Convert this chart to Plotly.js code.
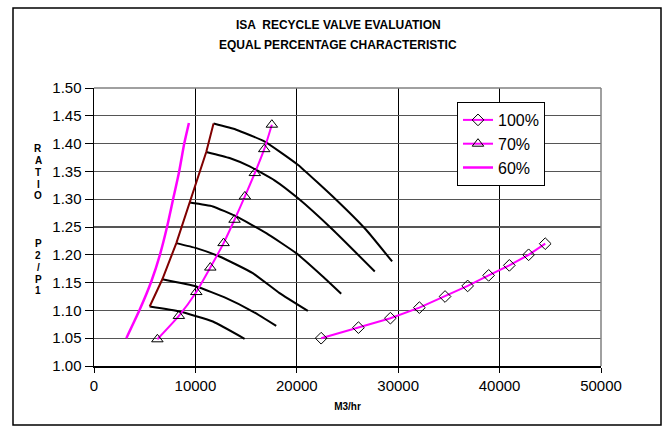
<!DOCTYPE html>
<html>
<head>
<meta charset="utf-8">
<script src="https://cdn.plot.ly/plotly-3.0.1.min.js"></script>
<style>html,body{margin:0;padding:0;background:#fff;}#chart{width:670px;height:431px;}</style>
</head>
<body>
<div id="chart"></div>
<script>
// ---- data ----
const speed1X = [11790, 14030, 16800, 20100, 23880, 26830, 29400];
const speed1Y = [1.436, 1.425, 1.404, 1.362, 1.299, 1.245, 1.188];
const speed2X = [11070, 13370, 15350, 17800, 20100, 23550, 27690];
const speed2Y = [1.385, 1.374, 1.359, 1.334, 1.302, 1.245, 1.170];
const speed3X = [9430, 11720, 14030, 16990, 19940, 22560, 24380];
const speed3Y = [1.294, 1.287, 1.269, 1.239, 1.203, 1.161, 1.130];
const speed4X = [8120, 10090, 12380, 15660, 18300, 21090];
const speed4Y = [1.221, 1.212, 1.197, 1.167, 1.131, 1.099];
const speed5X = [6740, 10090, 13040, 15660, 17970];
const speed5Y = [1.156, 1.143, 1.122, 1.098, 1.072];
const speed6X = [5490, 8440, 11720, 14850];
const speed6Y = [1.107, 1.098, 1.080, 1.049];

const surgeX = [5490, 6740, 8120, 9430, 11070, 11790];
const surgeY = [1.107, 1.156, 1.221, 1.294, 1.385, 1.436];

const open100X = [22400, 26080, 29230, 32090, 34620, 36850, 38920, 40960, 42860, 44500];
const open100Y = [1.050, 1.069, 1.086, 1.105, 1.125, 1.144, 1.163, 1.181, 1.200, 1.220];
const open70X = [6250, 8370, 10090, 11470, 12780, 13860, 14880, 15860, 16790, 17540];
const open70Y = [1.048, 1.090, 1.133, 1.177, 1.221, 1.263, 1.305, 1.347, 1.390, 1.434];
const open60X = [3190, 4500, 5650, 6500, 7200, 7800, 8400, 8900, 9360];
const open60Y = [1.050, 1.101, 1.152, 1.200, 1.250, 1.300, 1.350, 1.400, 1.437];

const seriesNames = ['100%', '70%', '60%'];
const xTickVals = [0, 10000, 20000, 30000, 40000, 50000];
const xTickText = ['0', '10000', '20000', '30000', '40000', '50000'];
const titleLines = ['ISA  RECYCLE VALVE EVALUATION', 'EQUAL PERCENTAGE CHARACTERISTIC'];
const xTitle = 'M3/hr';
const yTitleChars = ['R','A','T','I','O','','','','P','2','/','P','1'];

// ---- traces ----
const speedSets = [[speed1X,speed1Y],[speed2X,speed2Y],[speed3X,speed3Y],[speed4X,speed4Y],[speed5X,speed5Y],[speed6X,speed6Y]];
const traces = speedSets.map(s => ({
  x: s[0], y: s[1], type: 'scatter', mode: 'lines', showlegend: false, hoverinfo: 'skip',
  line: {color: '#000000', width: 2, shape: 'spline', smoothing: 0.4}
}));
traces.push({x: surgeX, y: surgeY, type: 'scatter', mode: 'lines', showlegend: false,
  line: {color: '#800000', width: 2}});
traces.push({x: open100X, y: open100Y, name: seriesNames[0], type: 'scatter', mode: 'lines+markers',
  line: {color: '#FF00FF', width: 2},
  marker: {symbol: 'diamond-open', size: 9, color: '#000000', line: {color: '#000000', width: 1}}});
traces.push({x: open70X, y: open70Y, name: seriesNames[1], type: 'scatter', mode: 'lines+markers',
  line: {color: '#FF00FF', width: 2, shape: 'spline', smoothing: 0.5},
  marker: {symbol: 'triangle-up-open', size: 10, color: '#000000', line: {color: '#000000', width: 1}}});
traces.push({x: open60X, y: open60Y, name: seriesNames[2], type: 'scatter', mode: 'lines',
  line: {color: '#FF00FF', width: 2.5, shape: 'spline', smoothing: 0.6}});

// layout geometry (pixels -> paper)
const L = 94, R = 69, T = 88, B = 65, W = 670, H = 431;
const pw = W - L - R, ph = H - T - B;
const px = v => (v - L) / pw;
const py = v => (H - B - v) / ph;

const annotations = [
  {xref: 'paper', yref: 'paper', x: px(338), y: py(25), xanchor: 'center', yanchor: 'middle', showarrow: false,
    text: '<b>' + titleLines[0] + '</b>', font: {size: 12}},
  {xref: 'paper', yref: 'paper', x: px(338), y: py(45), xanchor: 'center', yanchor: 'middle', showarrow: false,
    text: '<b>' + titleLines[1] + '</b>', font: {size: 12}}
];
yTitleChars.forEach((c, i) => {
  if (!c) return;
  annotations.push({xref: 'paper', yref: 'paper', x: px(38), y: py(148.5 + i * 11.87), xanchor: 'center', yanchor: 'middle',
    showarrow: false, text: '<b>' + c + '</b>', font: {size: 10}});
});

const layout = {
  width: W, height: H,
  margin: {l: L, r: R, t: T, b: B},
  paper_bgcolor: '#ffffff', plot_bgcolor: '#ffffff',
  font: {family: 'Liberation Sans, Arial, sans-serif', color: '#000000'},
  xaxis: {range: [0, 50000], tickvals: xTickVals, ticktext: xTickText,
    showgrid: true, gridcolor: '#000000', gridwidth: 1, zeroline: false,
    showline: true, linecolor: '#000000', linewidth: 1.5,
    ticks: 'outside', ticklen: 5, tickcolor: '#000', tickfont: {size: 15},
    title: {text: '<b>' + xTitle + '</b>', font: {size: 10}, standoff: 10}},
  yaxis: {range: [1.0, 1.5], dtick: 0.05, tick0: 1.0, tickformat: '.2f',
    showgrid: true, gridcolor: '#555555', gridwidth: 1.2, zeroline: false,
    showline: true, linecolor: '#000000', linewidth: 1.5,
    ticks: 'outside', ticklen: 8, tickcolor: '#000', tickfont: {size: 15}},
  legend: {x: px(457), y: py(102), xanchor: 'left', yanchor: 'top', bgcolor: '#ffffff',
    bordercolor: '#000000', borderwidth: 1, font: {size: 16}, traceorder: 'normal'},
  shapes: [
    {type: 'rect', xref: 'paper', yref: 'paper', x0: px(13), x1: px(661), y0: py(425), y1: py(8),
      line: {color: '#000000', width: 1.5}},
    {type: 'line', xref: 'paper', yref: 'paper', x0: 0, x1: 1, y0: 1, y1: 1, line: {color: '#808080', width: 1.5}},
    {type: 'line', xref: 'paper', yref: 'paper', x0: 1, x1: 1, y0: 0, y1: 1, line: {color: '#808080', width: 1.5}}
  ],
  annotations: annotations
};

Plotly.newPlot('chart', traces, layout, {displayModeBar: false, staticPlot: true});
</script>
</body>
</html>
